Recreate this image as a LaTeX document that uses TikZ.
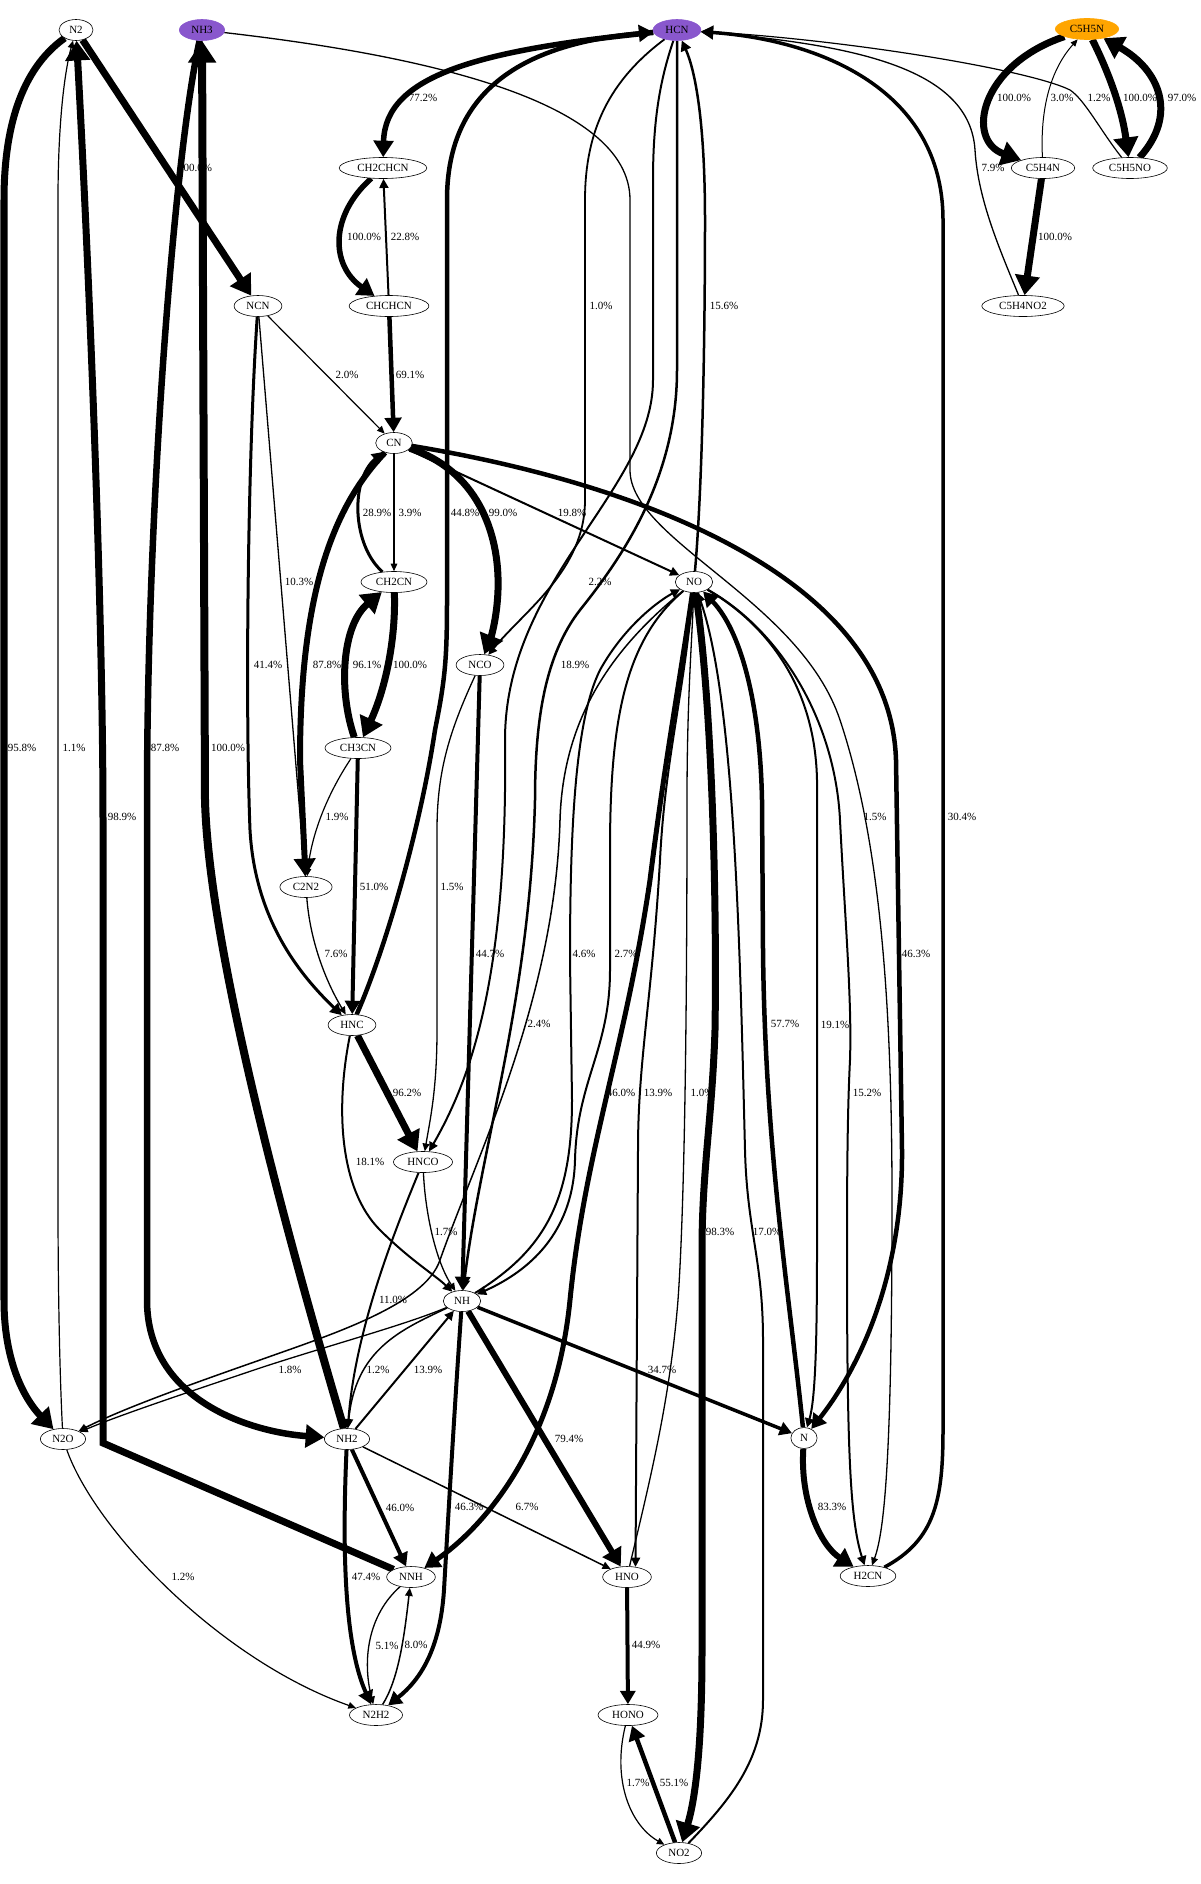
\documentclass[tikz,border=0pt]{standalone}
\usepackage{fontspec}
\setmainfont{Liberation Serif}
\usetikzlibrary{arrows.meta,shapes.geometric,backgrounds}
\definecolor{purp}{RGB}{137,87,205}
\definecolor{orng}{RGB}{255,165,0}
\begin{document}
\begin{tikzpicture}[x=1pt,y=-1pt,
 sp/.style={ellipse,draw=black,line width=0.6pt,fill=white,inner xsep=5.3pt,inner ysep=1pt,minimum height=21pt,font=\fontsize{11}{13}\selectfont},
 lb/.style={font=\fontsize{11}{13}\selectfont,inner sep=0pt},
 ed/.style={line width=#1pt,-{Triangle[length=5pt 2.1,width=3pt 3.0]}}]
\useasboundingbox (0,0) rectangle (1200,1884);
% nodes
\node[sp] (N2) at (76,30) {N2};
\node[sp,fill=purp,draw=purp] (NH3) at (202,30) {NH3};
\node[sp,fill=purp,draw=purp] (HCN) at (677,30) {HCN};
\node[sp,fill=orng,draw=orng] (C5H5N) at (1087,29) {C5H5N};
\node[sp] (CH2CHCN) at (383,168) {CH2CHCN};
\node[sp] (C5H4N) at (1043,168) {C5H4N};
\node[sp] (C5H5NO) at (1130,168) {C5H5NO};
\node[sp] (NCN) at (258,306) {NCN};
\node[sp] (CHCHCN) at (389,306) {CHCHCN};
\node[sp] (C5H4NO2) at (1023,306) {C5H4NO2};
\node[sp] (CN) at (394,443) {CN};
\node[sp] (CH2CN) at (394,582) {CH2CN};
\node[sp] (NO) at (694,582) {NO};
\node[sp] (NCO) at (480,665) {NCO};
\node[sp] (CH3CN) at (358,748) {CH3CN};
\node[sp] (C2N2) at (306,887) {C2N2};
\node[sp] (HNC) at (352,1025) {HNC};
\node[sp] (HNCO) at (423,1162) {HNCO};
\node[sp] (NH) at (462,1301) {NH};
\node[sp] (N2O) at (63,1439) {N2O};
\node[sp] (NH2) at (347,1439) {NH2};
\node[sp] (N) at (804,1438) {N};
\node[sp] (NNH) at (411,1577) {NNH};
\node[sp] (HNO) at (627,1577) {HNO};
\node[sp] (H2CN) at (868,1576) {H2CN};
\node[sp] (HONO) at (628,1715) {HONO};
\node[sp] (N2H2) at (376,1715) {N2H2};
\node[sp] (NO2) at (679,1853) {NO2};
\begin{scope}[on background layer]
\fill[white] (0,0) rectangle (1200,1884);
\draw[ed=7] (N2) .. controls (20,70) and (4,130) .. (4,200) -- (4,1300) .. controls (4,1370) and (30,1405) .. (N2O);
\draw[ed=1.2] (N2O) .. controls (60,1380) and (58,1300) .. (58,1200) -- (58,200) .. controls (58,120) and (65,70) .. (N2);
\draw[ed=7] (NNH) -- (103,1443) -- (103,820) .. controls (103,600) and (88,250) .. (N2);
\draw[ed=7] (N2) -- (NCN);
\draw[ed=8] (NH2) .. controls (300,1280) and (209,960) .. (205,800) -- (NH3);
\draw[ed=6.5] (NH3) .. controls (175,150) and (147,500) .. (147,800) -- (147,1300) .. controls (147,1400) and (250,1432) .. (NH2);
\draw[ed=1.3] (NH3) .. controls (420,55) and (630,100) .. (630,200) -- (630,470) .. controls (630,540) and (800,600) .. (840,720) .. controls (880,840) and (892,1000) .. (892,1200) .. controls (892,1450) and (885,1530) .. (H2CN);
\draw[ed=5.5] (HCN) .. controls (480,50) and (385,75) .. (CH2CHCN);
\draw[ed=5.5] (CH2CHCN) .. controls (330,215) and (330,265) .. (CHCHCN);
\draw[ed=2] (CHCHCN) -- (CH2CHCN);
\draw[ed=4.5] (CHCHCN) -- (CN);
\draw[ed=1.2] (NCN) -- (CN);
\draw[ed=1.3] (NCN) -- (C2N2);
\draw[ed=3] (NCN) .. controls (248,450) and (245,700) .. (250,830) .. controls (255,920) and (300,975) .. (HNC);
\draw[ed=6] (CN) .. controls (330,510) and (300,600) .. (300,760) -- (C2N2);
\draw[ed=3] (CH2CN) .. controls (352,545) and (350,480) .. (CN);
\draw[ed=1.2] (CN) -- (CH2CN);
\draw[ed=7] (CN) .. controls (475,470) and (500,530) .. (498,590) .. controls (497,620) and (490,640) .. (NCO);
\draw[ed=4.5] (HNC) .. controls (385,950) and (420,830) .. (435,730) .. controls (445,680) and (447,660) .. (447,600) -- (447,200) .. controls (447,100) and (510,45) .. (HCN);
\draw[ed=1.8] (HCN) .. controls (610,80) and (585,130) .. (585,200) -- (585,500) .. controls (585,570) and (525,610) .. (NCO);
\draw[ed=2] (HCN) .. controls (660,80) and (653,120) .. (653,180) -- (653,380) .. controls (653,490) and (505,580) .. (505,740) .. controls (508,980) and (470,1080) .. (HNCO);
\draw[ed=2.5] (HCN) -- (677,370) .. controls (677,480) and (620,560) .. (580,610) .. controls (545,655) and (535,720) .. (535,800) .. controls (530,1000) and (480,1150) .. (NH);
\draw[ed=2.5] (NO) .. controls (703,480) and (705,320) .. (705,220) .. controls (705,120) and (695,70) .. (HCN);
\draw[ed=3.5] (H2CN) .. controls (935,1540) and (943,1500) .. (943,1430) -- (943,220) .. controls (943,90) and (820,40) .. (HCN);
\draw[ed=4.5] (CN) .. controls (620,480) and (890,570) .. (896,760) -- (902,1150) .. controls (903,1290) and (850,1380) .. (N);
\draw[ed=1.3] (C5H4NO2) .. controls (1000,250) and (978,200) .. (975,150) .. controls (970,70) and (860,45) .. (HCN);
\draw[ed=1.2] (C5H5NO) .. controls (1100,130) and (1085,100) .. (1070,90) .. controls (1030,70) and (850,40) .. (HCN);
\draw[ed=7] (C5H5N) .. controls (980,65) and (965,140) .. (C5H4N);
\draw[ed=1] (C5H4N) .. controls (1040,110) and (1050,70) .. (C5H5N);
\draw[ed=7] (C5H5N) .. controls (1110,75) and (1122,110) .. (C5H5NO);
\draw[ed=7] (C5H5NO) .. controls (1178,115) and (1160,70) .. (C5H5N);
\draw[ed=7] (C5H4N) -- (C5H4NO2);
\draw[ed=7] (CH3CN) .. controls (338,690) and (342,625) .. (CH2CN);
\draw[ed=7] (CH2CN) .. controls (396,640) and (385,690) .. (CH3CN);
\draw[ed=1.2] (CH3CN) .. controls (330,790) and (312,830) .. (C2N2);
\draw[ed=4] (CH3CN) -- (HNC);
\draw[ed=1.3] (C2N2) .. controls (310,940) and (325,980) .. (HNC);
\draw[ed=7] (HNC) -- (HNCO);
\draw[ed=2] (HNC) .. controls (335,1110) and (340,1190) .. (380,1230) .. controls (410,1260) and (435,1275) .. (NH);
\draw[ed=1.3] (NCO) .. controls (450,730) and (437,770) .. (437,830) -- (437,1030) .. controls (437,1090) and (430,1120) .. (HNCO);
\draw[ed=4] (NCO) -- (NH);
\draw[ed=1.3] (HNCO) .. controls (425,1210) and (435,1260) .. (NH);
\draw[ed=2] (HNCO) .. controls (395,1230) and (355,1330) .. (NH2);
\draw[ed=1.3] (NH) .. controls (405,1325) and (330,1345) .. (260,1368) .. controls (180,1395) and (120,1415) .. (N2O);
\draw[ed=1.5] (NO) .. controls (610,650) and (563,720) .. (560,820) .. controls (555,1000) and (475,1160) .. (440,1260) .. controls (425,1305) and (330,1335) .. (260,1360) .. controls (180,1388) and (120,1410) .. (N2O);
\draw[ed=1.5] (NH) .. controls (400,1330) and (355,1350) .. (NH2);
\draw[ed=2] (NH2) -- (NH);
\draw[ed=2] (NH) .. controls (545,1250) and (572,1200) .. (572,1100) -- (570,960) .. controls (570,830) and (575,720) .. (600,670) .. controls (625,625) and (660,600) .. (NO);
\draw[ed=2] (NO) .. controls (625,640) and (610,720) .. (610,850) -- (610,970) .. controls (610,1050) and (577,1080) .. (575,1160) .. controls (573,1240) and (520,1275) .. (NH);
\draw[ed=5] (NO) .. controls (680,680) and (665,760) .. (650,880) .. controls (625,1050) and (585,1150) .. (570,1300) .. controls (555,1450) and (480,1530) .. (NNH);
\draw[ed=2] (NO) .. controls (683,700) and (665,760) .. (660,860) .. controls (652,1000) and (638,1060) .. (638,1150) -- (HNO.50);
\draw[ed=1.3] (HNO) .. controls (650,1480) and (670,1400) .. (678,1300) .. controls (685,1200) and (687,1000) .. (687,800) .. controls (687,700) and (692,640) .. (NO);
\draw[ed=7] (NO) .. controls (712,700) and (717,900) .. (715,1030) .. controls (712,1120) and (702,1170) .. (702,1250) -- (702,1650) .. controls (702,1750) and (695,1800) .. (NO2);
\draw[ed=2] (NO2) .. controls (730,1800) and (763,1760) .. (763,1700) -- (763,1340) .. controls (763,1260) and (747,1230) .. (745,1150) .. controls (740,950) and (735,700) .. (NO);
\draw[ed=4.5] (N) .. controls (790,1300) and (765,1150) .. (763,950) -- (762,800) .. controls (760,700) and (740,630) .. (NO);
\draw[ed=2] (NO) .. controls (760,620) and (815,680) .. (817,780) -- (817,1250) .. controls (817,1350) and (815,1400) .. (N);
\draw[ed=2] (NO) .. controls (780,630) and (835,720) .. (840,820) .. controls (845,920) and (852,1000) .. (850,1060) .. controls (848,1100) and (847,1150) .. (847,1250) .. controls (847,1450) and (850,1520) .. (H2CN);
\draw[ed=6] (N) .. controls (800,1500) and (820,1545) .. (H2CN);
\draw[ed=3.5] (NH) -- (N);
\draw[ed=6] (NH) -- (HNO);
\draw[ed=4] (NH) .. controls (455,1400) and (448,1520) .. (444,1590) .. controls (440,1650) and (420,1680) .. (N2H2);
\draw[ed=4] (NH2) -- (NNH);
\draw[ed=4] (NH2) .. controls (343,1530) and (342,1640) .. (N2H2);
\draw[ed=1.5] (NH2) -- (HNO);
\draw[ed=1.3] (NNH) .. controls (368,1615) and (362,1660) .. (N2H2);
\draw[ed=1.5] (N2H2) .. controls (398,1680) and (404,1640) .. (NNH);
\draw[ed=1.2] (N2O) .. controls (95,1530) and (220,1660) .. (N2H2);
\draw[ed=4] (HNO) -- (HONO);
\draw[ed=1.2] (HONO) .. controls (612,1780) and (630,1825) .. (NO2);
\draw[ed=4.5] (NO2) -- (HONO);
\draw[ed=2] (CN) -- (NO);
\end{scope}
% labels
\node[lb] (l1) at (22,748) {95.8\%};
\node[lb] (l2) at (74,748) {1.1\%};
\node[lb] (l3) at (122,817) {98.9\%};
\node[lb] (l4) at (195,168) {100.0\%};
\node[lb] (l5) at (228,748) {100.0\%};
\node[lb] (l6) at (165,748) {87.8\%};
\node[lb] (l7) at (875,817) {1.5\%};
\node[lb] (l8) at (423,98) {77.2\%};
\node[lb] (l9) at (364,237) {100.0\%};
\node[lb] (l10) at (405,237) {22.8\%};
\node[lb] (l11) at (410,375) {69.1\%};
\node[lb] (l12) at (347,375) {2.0\%};
\node[lb] (l13) at (299,582) {10.3\%};
\node[lb] (l14) at (268,665) {41.4\%};
\node[lb] (l15) at (327,665) {87.8\%};
\node[lb] (l16) at (377,513) {28.9\%};
\node[lb] (l17) at (410,513) {3.9\%};
\node[lb] (l18) at (503,513) {99.0\%};
\node[lb] (l19) at (465,513) {44.8\%};
\node[lb] (l20) at (601,306) {1.0\%};
\node[lb] (l21) at (600,582) {2.2\%};
\node[lb] (l22) at (575,665) {18.9\%};
\node[lb] (l23) at (724,306) {15.6\%};
\node[lb] (l24) at (962,817) {30.4\%};
\node[lb] (l25) at (916,954) {46.3\%};
\node[lb] (l26) at (993,168) {7.9\%};
\node[lb] (l27) at (1099,98) {1.2\%};
\node[lb] (l28) at (1014,98) {100.0\%};
\node[lb] (l29) at (1062,98) {3.0\%};
\node[lb] (l30) at (1140,98) {100.0\%};
\node[lb] (l31) at (1182,98) {97.0\%};
\node[lb] (l32) at (1055,237) {100.0\%};
\node[lb] (l33) at (367,665) {96.1\%};
\node[lb] (l34) at (410,665) {100.0\%};
\node[lb] (l35) at (337,817) {1.9\%};
\node[lb] (l36) at (374,887) {51.0\%};
\node[lb] (l37) at (336,954) {7.6\%};
\node[lb] (l38) at (407,1093) {96.2\%};
\node[lb] (l39) at (370,1162) {18.1\%};
\node[lb] (l40) at (452,887) {1.5\%};
\node[lb] (l41) at (490,954) {44.7\%};
\node[lb] (l42) at (446,1232) {1.7\%};
\node[lb] (l43) at (393,1300) {11.0\%};
\node[lb] (l44) at (290,1370) {1.8\%};
\node[lb] (l45) at (539,1024) {2.4\%};
\node[lb] (l46) at (378,1370) {1.2\%};
\node[lb] (l47) at (428,1370) {13.9\%};
\node[lb] (l48) at (584,954) {4.6\%};
\node[lb] (l49) at (626,954) {2.7\%};
\node[lb] (l50) at (621,1093) {46.0\%};
\node[lb] (l51) at (658,1093) {13.9\%};
\node[lb] (l52) at (702,1093) {1.0\%};
\node[lb] (l53) at (720,1232) {98.3\%};
\node[lb] (l54) at (767,1232) {17.0\%};
\node[lb] (l55) at (785,1024) {57.7\%};
\node[lb] (l56) at (835,1025) {19.1\%};
\node[lb] (l57) at (867,1093) {15.2\%};
\node[lb] (l58) at (832,1507) {83.3\%};
\node[lb] (l59) at (662,1370) {34.7\%};
\node[lb] (l60) at (569,1439) {79.4\%};
\node[lb] (l61) at (469,1507) {46.3\%};
\node[lb] (l62) at (400,1508) {46.0\%};
\node[lb] (l63) at (366,1577) {47.4\%};
\node[lb] (l64) at (527,1507) {6.7\%};
\node[lb] (l65) at (387,1646) {5.1\%};
\node[lb] (l66) at (416,1645) {8.0\%};
\node[lb] (l67) at (183,1577) {1.2\%};
\node[lb] (l68) at (646,1645) {44.9\%};
\node[lb] (l69) at (638,1783) {1.7\%};
\node[lb] (l70) at (674,1783) {55.1\%};
\node[lb] (l71) at (572,513) {19.8\%};
\end{tikzpicture}
\end{document}
